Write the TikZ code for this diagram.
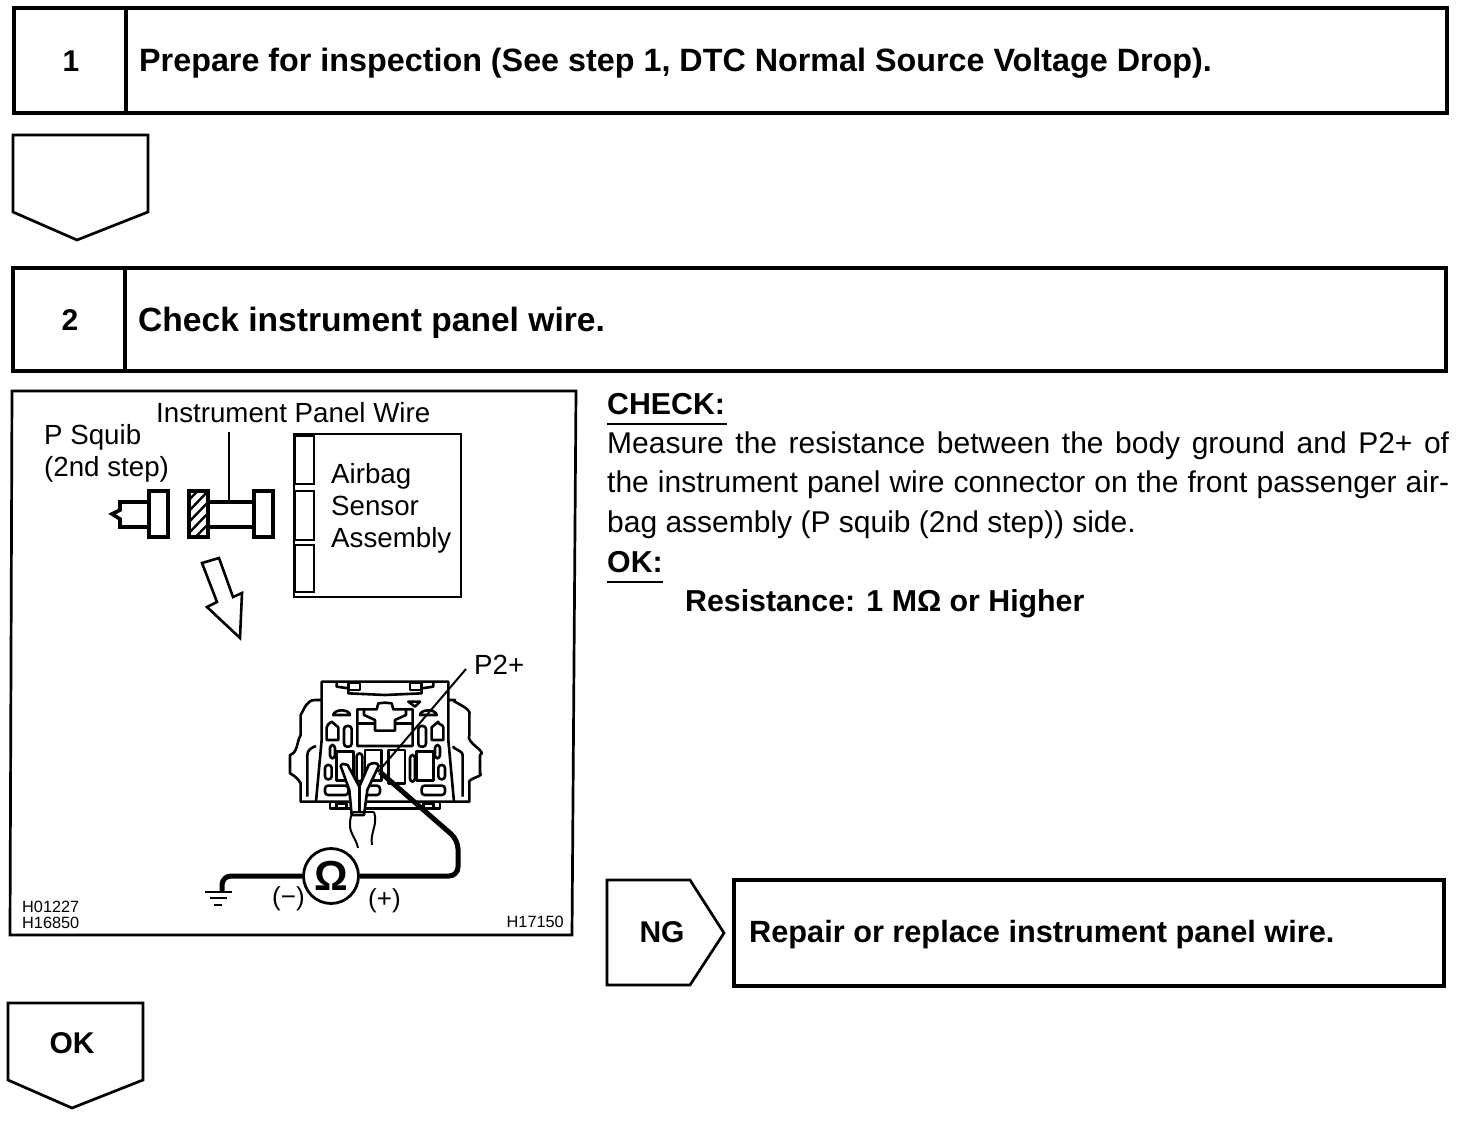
\documentclass[tikz,border=0pt]{standalone}
\usepackage{fontspec}
\setmainfont{Liberation Sans}
\usetikzlibrary{calc}
\newcommand{\fsz}[1]{\fontsize{#1}{#1}\selectfont}
\tikzset{
  stepframe/.style={draw,line width=3.2pt},
  heavy/.style={draw,line width=2.7pt,line join=miter},
  plug/.style={draw,line width=3.6pt,line join=miter},
  title/.style={anchor=base west,inner sep=0pt,font=\fsz{32.3}\bfseries},
  stepnum/.style={anchor=base,inner sep=0pt,font=\fsz{30}\bfseries},
  fig/.style={anchor=base west,inner sep=0pt,font=\fsz{27.7}},
  bodyline/.style={anchor=base west,inner sep=0pt,font=\fsz{30}},
  bodyb/.style={anchor=base west,inner sep=0pt,font=\fsz{30.3}\bfseries},
  tiny/.style={anchor=base west,inner sep=0pt,font=\fsz{16.3}},
  thin/.style={draw,line width=2pt},
  part/.style={draw,line width=2.6pt,fill=white,line join=round},
  wire/.style={draw,line width=5pt,line join=round,rounded corners=9pt},
}
\newcommand{\halfconn}{%
  \draw[part,fill=none] (315,125) -- (125,125) -- (125,180) -- (105,180) to[out=180,in=60] (62,225) -- (62,285) to[out=240,in=20] (30,345) -- (30,400) to[out=-30,in=120] (62,430) -- (62,485) -- (315,485);
  \draw[part,fill=none] (125,180) -- (125,300) -- (108,485);
  \draw[part,fill=none] (108,318) to[out=200,in=90] (82,345) -- (82,470);
  \draw[part,fill=none] (150,485) -- (150,505) -- (315,505);
  \draw[part,fill=none] (170,505) -- (170,490) -- (200,490) -- (200,505);
  \draw[part,fill=none] (170,125) -- (170,140) -- (205,145) -- (205,160) -- (315,165);
  \draw[part,fill=none] (205,128) rectangle (240,150);
  \draw[part,fill=none] (315,188) -- (295,190) -- (290,208) -- (232,208) -- (232,318) -- (315,318);
  \draw[part,fill=none] (252,208) -- (252,225) -- (285,240) -- (285,272) -- (315,272);
  \draw[part,fill=none] (232,250) -- (285,250);
  \draw[part] (160,225) arc[start angle=180,end angle=360,x radius=25,y radius=14] -- cycle;
  \draw[part] (140,262) to[out=90,in=225] (155,245) -- (175,262) -- (175,300) -- (140,300) -- cycle;
  \draw[part,rounded corners=3pt] (192,258) rectangle (215,320);
  \draw[part] (170,335) rectangle (220,422);
  \draw[part,rounded corners=3pt] (150,315) rectangle (165,355);
  \draw[part,rounded corners=3pt] (135,375) rectangle (155,418);
  \draw[part,rounded corners=3pt] (135,437) rectangle (205,465);
}
\begin{document}
\begin{tikzpicture}[x=1pt,y=-1pt]
\useasboundingbox (0,0) rectangle (1472,1126);
\fill[white] (0,0) rectangle (1472,1126);

% step 1
\draw[stepframe] (14,8) rectangle (1447,113);
\draw[stepframe] (126,8) -- (126,113);
\node[stepnum] (n1) at (71,72) {1};
\node[title] (t1) at (139,72) {Prepare for inspection (See step 1, DTC Normal Source Voltage Drop).};

% arrow 1
\draw[heavy] (13,135) -- (148,135) -- (148,212) -- (77,240) -- (13,212) -- cycle;

% step 2
\draw[stepframe] (13,268) rectangle (1446,371);
\draw[stepframe] (125,268) -- (125,371);
\node[stepnum] (n2) at (70,330) {2};
\node[title,font=\fsz{33.6}\bfseries] (t2) at (138,331) {Check instrument panel wire.};

% figure frame
\draw[heavy] (12,391) -- (576,391) -- (572,935) -- (10,935) -- cycle;

\node[fig] (lipw) at (156,422) {Instrument Panel Wire};
\node[fig] (lps) at (44,444) {P Squib};
\node[fig] (lstep) at (44,476) {(2nd step)};

% airbag sensor
\draw[heavy] (294,434) rectangle (461,597);
\draw[thin,line width=2.6pt] (295,436) rectangle (314,484);
\draw[thin,line width=2.6pt] (295,491) rectangle (314,540);
\draw[thin,line width=2.6pt] (295,545) rectangle (314,592);
\node[fig] (la1) at (331,483) {Airbag};
\node[fig] (la2) at (331,515) {Sensor};
\node[fig] (la3) at (331,547) {Assembly};

% plug
\draw[plug] (148,502) -- (120,502) -- (120,510) -- (112,514) -- (120,519) -- (120,527) -- (148,527);
\draw[plug] (149,491) rectangle (168,537);
% instrument panel wire connector
\draw[plug] (209,502) -- (254,502);
\draw[plug] (209,527) -- (254,527);
\draw[plug] (254,491) rectangle (273,537);
\begin{scope}
\clip (189,490) rectangle (208,537);
\foreach \k in {0,11,...,66} \draw[line width=2.4pt] (187,502+\k) -- (212,\k+476);
\end{scope}
\draw[plug] (189,491) rectangle (208,537);
\coordinate (ltop) at (229,432);
\coordinate (lbot) at (229,502);
\draw[thin] (ltop) -- (lbot);

% hollow arrow
\draw[line width=2.6pt,line join=miter] (202,563) -- (219,558) -- (233,597) -- (242,593) -- (240,638) -- (207,607) -- (217,602) -- cycle;

% connector
\begin{scope}[shift={(280,640)},x=0.3333pt,y=-0.3333pt]
  \halfconn
  \begin{scope}[shift={(630,0)},x=-0.3333pt]
    \halfconn
  \end{scope}
  \draw[part,fill=none] (385,185) -- (420,185) -- (405,200) -- cycle;
  \draw[part] (255,330) rectangle (305,422);
  \draw[part] (325,330) rectangle (375,430);
  \draw[part,rounded corners=3pt] (230,340) rectangle (247,425);
  \draw[part,rounded corners=3pt] (390,345) rectangle (405,425);
  \draw[part,rounded corners=3pt] (225,437) rectangle (300,465);
  \draw[part] (182,378) to[out=80,in=150] (203,375) -- (238,440) -- (266,375) to[out=40,in=100] (296,378) -- (262,450) -- (252,525) -- (215,525) -- (208,450) -- cycle;
  \draw[part,fill=none] (238,440) -- (238,520);
\end{scope}
% cable below connector
\draw[thin] (353,812) to[out=240,in=90] (350,825) to[out=-90,in=100] (358,848);
\draw[thin] (374,812) to[out=-70,in=100] (372,845);
\draw[thin] (353,812) -- (374,812);

% P2+
\node[fig] (lp2) at (474,674) {P2+};
\coordinate (pa) at (466,669);
\coordinate (pb) at (378,772);
\draw[thin] (pa) -- (pb);

% ohmmeter
\node[circle,draw,line width=2.8pt,minimum size=55pt,inner sep=0pt,font=\fsz{42}\bfseries] (ohm) at (331,876) {Ω};
\coordinate (gnd) at (222,892);
\coordinate (probe) at (380,772);
\draw[wire] (ohm.west) -| (gnd);
\draw[wire] (ohm.east) -- (458,876) -- (458,840) -- (probe);
\draw[thin,line width=2.8pt] (205,892) -- (232,892);
\draw[thin] (210,898) -- (227,898);
\draw[thin] (214,905) -- (222,905);
\node[fig,font=\fsz{26}] (lm) at (272,905) {(−)};
\node[fig,font=\fsz{26}] (lpl) at (368,907) {(+)};

\node[tiny] (c1) at (22,912) {H01227};
\node[tiny] (c2) at (22,928) {H16850};
\node[tiny,anchor=base east] (c3) at (564,927) {H17150};

% right text
\node[bodyb] (chk) at (607,414) {CHECK:};
\draw[line width=1.2pt] (607,424) -- (727,424);
\node[bodyline] (l1) at (607,453) {\hbox to 842pt{Measure the resistance between the body ground and P2+ of}};
\node[bodyline] (l2) at (607,492) {\hbox to 842pt{the instrument panel wire connector on the front passenger air-}};
\node[bodyline] (l3) at (607,532) {bag assembly (P squib (2nd step)) side.};
\node[bodyb] (ok) at (607,572) {OK:};
\draw[line width=1.2pt] (607,582) -- (663,582);
\node[bodyb] (res) at (685,611) {Resistance: 1 MΩ or Higher};

% NG
\draw[heavy] (607,880) -- (690,880) -- (724,933) -- (690,985) -- (607,985) -- cycle;
\node[stepnum] (ng) at (662,942) {NG};
\draw[stepframe] (734,880) rectangle (1444,986);
\node[title,font=\fsz{30.7}\bfseries] (rep) at (749,942) {Repair or replace instrument panel wire.};

% OK
\draw[heavy] (8,1003) -- (143,1003) -- (143,1080) -- (72,1108) -- (8,1080) -- cycle;
\node[stepnum] (okb) at (72,1053) {OK};
\end{tikzpicture}
\end{document}
